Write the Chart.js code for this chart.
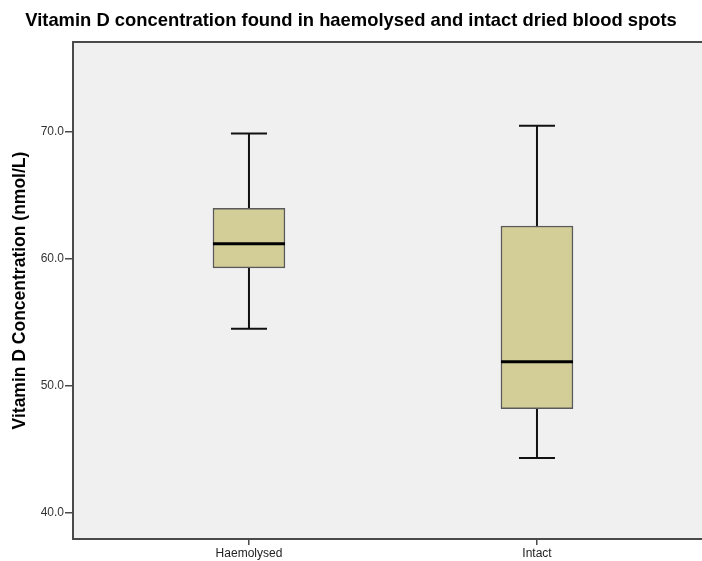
<!DOCTYPE html>
<html>
<head>
<meta charset="utf-8">
<script src="https://cdn.jsdelivr.net/npm/chart.js@4/dist/chart.umd.min.js"></script>
<style>
  html, body { margin: 0; padding: 0; background: #ffffff; }
  #wrap { width: 702px; height: 561px; position: relative; }
</style>
</head>
<body>
<div id="wrap"><canvas id="chart"></canvas></div>
<script>
// Box plot summaries per group (nmol/L)
const categories = ['Haemolysed', 'Intact'];
const whiskerLow = [54.5, 44.3];
const q1 = [59.3, 48.2];
const median = [61.2, 51.9];
const q3 = [64.0, 62.6];
const whiskerHigh = [69.9, 70.5];
const yTicks = [40, 50, 60, 70];

const FONT = '"Liberation Sans", Arial, sans-serif';

// Plot background and frame (left, top, bottom edges)
const framePlugin = {
  id: 'frame',
  beforeDraw(chart) {
    const { ctx, chartArea: a } = chart;
    ctx.save();
    ctx.fillStyle = '#f0f0f0';
    ctx.fillRect(a.left, a.top, a.right - a.left, a.bottom - a.top);
    ctx.restore();
  },
  afterDraw(chart) {
    const { ctx, chartArea: a } = chart;
    ctx.save();
    ctx.strokeStyle = '#4a4a4a';
    ctx.lineWidth = 2;
    ctx.beginPath();
    ctx.moveTo(a.right, a.top);
    ctx.lineTo(a.left, a.top);
    ctx.lineTo(a.left, a.bottom);
    ctx.lineTo(a.right, a.bottom);
    ctx.stroke();
    ctx.restore();
  }
};

// Whiskers behind the boxes, medians on top
const boxPlugin = {
  id: 'boxparts',
  beforeDatasetsDraw(chart) {
    const { ctx, scales: { x, y } } = chart;
    ctx.save();
    ctx.strokeStyle = '#111';
    ctx.lineWidth = 2;
    categories.forEach((c, i) => {
      const cx = x.getPixelForValue(i + 1);
      const half = 18;
      const yLo = y.getPixelForValue(whiskerLow[i]);
      const yHi = y.getPixelForValue(whiskerHigh[i]);
      ctx.beginPath();
      ctx.moveTo(cx, yLo); ctx.lineTo(cx, yHi);
      ctx.moveTo(cx - half, yLo); ctx.lineTo(cx + half, yLo);
      ctx.moveTo(cx - half, yHi); ctx.lineTo(cx + half, yHi);
      ctx.stroke();
    });
    ctx.restore();
  },
  afterDatasetsDraw(chart) {
    const { ctx, scales: { x, y } } = chart;
    const meta = chart.getDatasetMeta(0);
    ctx.save();
    ctx.strokeStyle = '#000';
    ctx.lineWidth = 3;
    categories.forEach((c, i) => {
      const w = meta.data[i].width;
      const cx = x.getPixelForValue(i + 1);
      const ym = y.getPixelForValue(median[i]);
      ctx.beginPath();
      ctx.moveTo(cx - w / 2, ym); ctx.lineTo(cx + w / 2, ym);
      ctx.stroke();
    });
    ctx.restore();
  }
};

new Chart(document.getElementById('chart'), {
  type: 'bar',
  data: {
    datasets: [{
      label: 'IQR',
      data: categories.map((c, i) => ({ x: i + 1, y: [q1[i], q3[i]] })),
      backgroundColor: '#d3ce97',
      borderColor: '#5a5a5a',
      borderWidth: 1.5,
      borderSkipped: false,
      barThickness: 72
    }]
  },
  options: {
    responsive: true,
    maintainAspectRatio: false,
    animation: false,
    layout: { padding: 0 },
    plugins: {
      legend: { display: false },
      tooltip: { enabled: false },
      title: {
        display: true,
        text: 'Vitamin D concentration found in haemolysed and intact dried blood spots',
        color: '#000',
        font: { family: FONT, size: 18.4, weight: 'bold' },
        padding: { top: 10, bottom: 10 }
      }
    },
    scales: {
      x: {
        type: 'linear',
        offset: false,
        min: 0.389,
        max: 2.573,
        afterBuildTicks(scale) {
          scale.ticks = categories.map((c, i) => ({ value: i + 1 }));
        },
        afterFit(scale) { scale.height = 22; },
        border: { display: false },
        grid: { offset: false, drawOnChartArea: false, drawTicks: true, tickLength: 6, color: '#4a4a4a', lineWidth: 1.5 },
        ticks: {
          color: '#222',
          font: { family: FONT, size: 12 },
          padding: 1,
          maxRotation: 0,
          autoSkip: false,
          callback: (v, idx) => categories[idx]
        }
      },
      y: {
        type: 'linear',
        min: 37.92,
        max: 77.1,
        afterBuildTicks(scale) {
          scale.ticks = yTicks.map(v => ({ value: v }));
        },
        afterFit(scale) { scale.width = 73; },
        border: { display: false },
        grid: { drawOnChartArea: false, drawTicks: true, tickLength: 8, color: '#4a4a4a', lineWidth: 1.5 },
        ticks: {
          color: '#333',
          font: { family: FONT, size: 12 },
          padding: 1,
          callback: v => Number(v).toFixed(1)
        },
        title: {
          display: true,
          text: 'Vitamin D Concentration (nmol/L)',
          color: '#000',
          font: { family: FONT, size: 17.5, weight: 'bold' },
          padding: { top: 9.5, bottom: 0 }
        }
      }
    }
  },
  plugins: [framePlugin, boxPlugin]
});
</script>
</body>
</html>
